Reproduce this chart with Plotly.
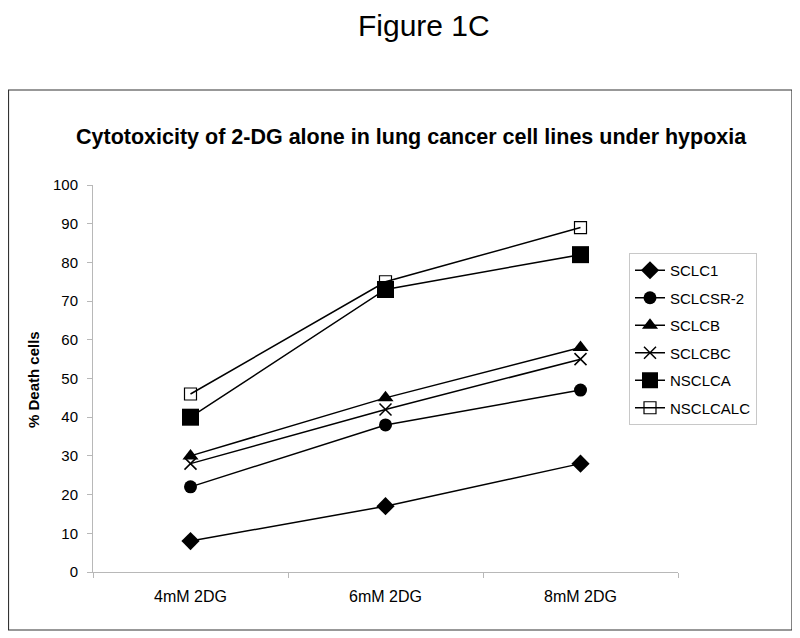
import plotly.graph_objects as go

categories = ["4mM 2DG", "6mM 2DG", "8mM 2DG"]
series_names = ["SCLC1", "SCLCSR-2", "SCLCB", "SCLCBC", "NSCLCA", "NSCLCALC"]
sclc1 = [8, 17, 28]
sclcsr2 = [22, 38, 47]
sclcb = [30, 45, 58]
sclcbc = [28, 42, 55]
nsclca = [40, 73, 82]
nsclcalc = [46, 75, 89]
y_ticks = list(range(0, 101, 10))

series_values = [sclc1, sclcsr2, sclcb, sclcbc, nsclca, nsclcalc]
markers = [
    dict(symbol="diamond", size=14, color="black"),
    dict(symbol="circle", size=13, color="black"),
    dict(symbol="triangle-up", size=14, color="black"),
    dict(symbol="x-thin-open", size=12, color="black", line=dict(width=1.5, color="black")),
    dict(symbol="square", size=17, color="black"),
    dict(symbol="square-open", size=12, color="black", line=dict(width=1.2, color="black")),
]

FONT = "Arial, Liberation Sans, sans-serif"

fig = go.Figure()
for name, vals, mk in zip(series_names, series_values, markers):
    fig.add_trace(go.Scatter(
        x=categories, y=vals, name=name, mode="lines+markers",
        line=dict(color="black", width=1.5),
        marker=mk, legendgroup=name,
    ))

# page offset from the default body margin of the HTML page
OFF = 8
W, H = 800 - OFF, 638 - OFF
L, R, T, B = 93 - OFF, 678 - OFF, 185 - OFF, 572 - OFF
pw, ph = R - L, B - T

def px(x):
    return (x - OFF - L) / pw

def py(y):
    return (B - (y - OFF)) / ph

fig.update_layout(
    width=W, height=H,
    margin=dict(l=L, r=W - R, t=T, b=H - B, pad=0),
    paper_bgcolor="white", plot_bgcolor="white",
    font=dict(family=FONT, color="black", size=15),
    showlegend=True,
    legend=dict(
        x=px(629), y=py(253), xanchor="left", yanchor="top",
        bordercolor="#c8c8c8", borderwidth=1, bgcolor="white",
        font=dict(size=15, family=FONT), tracegroupgap=5,
        itemwidth=30,
    ),
    xaxis=dict(
        type="category", range=[-0.5, 2.5], showgrid=False,
        showline=True, linecolor="#b8b8b8", linewidth=1,
        ticks="outside", tickson="boundaries", ticklen=5, tickcolor="#b8b8b8",
        tickfont=dict(size=16), zeroline=False, ticklabelstandoff=10,
    ),
    yaxis=dict(
        range=[0, 100], tickvals=y_ticks, showgrid=False,
        showline=True, linecolor="#b8b8b8", linewidth=1,
        ticks="outside", ticklen=5, tickcolor="#b8b8b8",
        tickfont=dict(size=15), zeroline=False, ticklabelstandoff=6,
    ),
    shapes=[dict(
        type="rect", xref="paper", yref="paper",
        x0=px(8.5), x1=px(792), y0=py(630), y1=py(90),
        line=dict(color="#333333", width=1.2), layer="below",
    )],
    annotations=[
        dict(text="Figure 1C", xref="paper", yref="paper", x=px(424), y=py(25),
             showarrow=False, font=dict(size=30, family=FONT), xanchor="center", yanchor="middle"),
        dict(text="<b>Cytotoxicity of 2-DG alone in lung cancer cell lines under hypoxia</b>",
             xref="paper", yref="paper", x=px(411), y=py(137), showarrow=False,
             font=dict(size=21.5, family=FONT), xanchor="center", yanchor="middle"),
        dict(text="<b>% Death cells</b>", xref="paper", yref="paper", x=px(33), y=py(380),
             showarrow=False, textangle=-90, font=dict(size=15, family=FONT),
             xanchor="center", yanchor="middle"),
    ],
)

fig.write_html("out.html")
